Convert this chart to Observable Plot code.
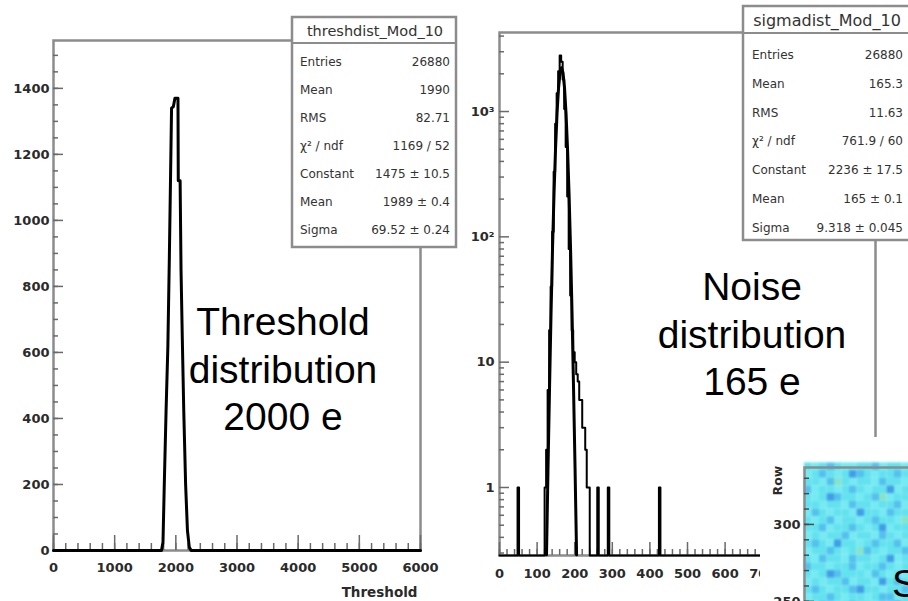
<!DOCTYPE html>
<html>
<head>
<meta charset="utf-8">
<script src="https://cdn.jsdelivr.net/npm/d3@7"></script>
<script src="https://cdn.jsdelivr.net/npm/@observablehq/plot@0.6"></script>
<style>
html,body{margin:0;padding:0;background:#fff;}
#stage{position:relative;width:908px;height:601px;overflow:hidden;background:#fff;}
#stage > svg{position:absolute;}
</style>
</head>
<body>
<div id="stage"></div>
<script>
// ---------------- data ----------------
// Threshold histogram outline (electrons, entries)
const thrX = [0, 1700, 1765, 1790, 1810, 1840, 1870, 1895, 1915, 1930, 1960, 1985, 2035, 2040, 2070, 2085, 2105, 2130, 2160, 2190, 2220, 2250, 6000];
const thrY = [0, 0, 0, 25, 190, 420, 620, 900, 1150, 1340, 1345, 1370, 1370, 1120, 1120, 850, 650, 420, 200, 60, 10, 0, 0];
const thrXMajor = [0, 1000, 2000, 3000, 4000, 5000, 6000];
const thrXLabels = ["0", "1000", "2000", "3000", "4000", "5000", "6000"];
const thrYMajor = [0, 200, 400, 600, 800, 1000, 1200, 1400];
const thrYLabels = ["0", "200", "400", "600", "800", "1000", "1200", "1400"];
const thrXTitle = "Threshold";

// Noise histogram: non-empty bins (bin start, width 4 e) and counts
const noiseBinStart = [48, 120, 124, 128, 132, 136, 140, 144, 148, 152, 156, 160, 164, 168, 172, 176, 180, 184, 188, 192, 196, 200, 204, 208, 212, 216, 220, 224, 228, 232, 236, 260, 288, 424];
const noiseBinCount = [1, 1, 2, 6, 18, 40, 110, 330, 800, 1400, 2100, 2800, 2500, 1800, 1050, 520, 210, 80, 34, 18, 12, 10, 8, 7, 5, 5, 3, 3, 2, 1, 1, 1, 1, 1];
// Gaussian fit curve
const fitX = [125, 129, 133, 137, 141, 145, 149, 153, 157, 161, 165, 169, 173, 177, 181, 185, 189, 193, 197, 201, 205];
const fitY = [0.29, 1.4, 6, 24, 80, 220, 500, 960, 1540, 2030, 2236, 2030, 1540, 960, 500, 220, 80, 24, 6, 1.4, 0.29];
const noiseXMajor = [0, 100, 200, 300, 400, 500, 600, 700, 800, 900, 1000];
const noiseXLabels = ["0", "100", "200", "300", "400", "500", "600", "700", "800", "900", "1000"];
const noiseYMajor = [1, 10, 100, 1000];
const noiseYLabels = ["1", "10", "10²", "10³"];

// Stats boxes
const statLabels = ["Entries", "Mean", "RMS", "χ² / ndf", "Constant", "Mean", "Sigma"];
const thrStatTitle = "threshdist_Mod_10";
const thrStatValues = ["26880", "1990", "82.71", "1169 / 52", "1475 ± 10.5", "1989 ± 0.4", "69.52 ± 0.24"];
const noiseStatTitle = "sigmadist_Mod_10";
const noiseStatValues = ["26880", "165.3", "11.63", "761.9 / 60", "2236 ± 17.5", "165 ± 0.1", "9.318 ± 0.045"];

// Annotations
const thrNote = ["Threshold", "distribution", "2000 e"];
const noiseNote = ["Noise", "distribution", "165 e"];
const mapNote = "S";

// Hit-map inset (rows, level per column cell; top row first)
const heatTopRow = 335;
const heatRows = [
  "010201100210010",
  "102010320100201",
  "001240100120010",
  "210010201003102",
  "010320010241001",
  "001001200100210",
  "120100130012001",
  "010210010200140",
  "002100201031002",
  "101002100120100",
  "020130010200210",
  "100201042010021",
  "012001200103100",
  "200100210020102",
  "010320001201010",
  "101002100130201",
  "020100230010020",
  "100201001022100",
  "012010200100301",
  "201002013020010",
  "010200100201002"
];
const heatYMajor = [250, 300];
const heatYLabels = ["250", "300"];
const heatYTitle = "Row";
const heatPalette = ["#62e2ee", "#74eaf3", "#52c1ee", "#3f9ee8", "#86e3c9"];

// ---------------- helpers ----------------
const stage = document.getElementById("stage");
function place(svg, left, top) {
  svg.style.left = left + "px";
  svg.style.top = top + "px";
  stage.appendChild(svg);
}
const frameColor = "#8c8c8c";
const tickColor = "#6a6a6a";
const labelColor = "#2a2a2a";
const plotStyle = {background: "transparent", fontFamily: "DejaVu Sans", fontSize: "13px", fontWeight: "bold", color: labelColor, overflow: "visible"};
const fmt = (vals, labs) => d => labs[vals.indexOf(d)];

// ---------------- threshold panel ----------------
const thrData = thrX.map((x, i) => ({x, y: thrY[i]}));
const thrPlot = Plot.plot({
  width: 460, height: 601,
  marginLeft: 53, marginRight: 40, marginTop: 40, marginBottom: 51,
  style: plotStyle,
  x: {domain: [0, 6000]},
  y: {domain: [0, 1545]},
  marks: [
    Plot.frame({stroke: frameColor, strokeWidth: 2.5}),
    Plot.axisX({ticks: d3.range(0, 6001, 200), tickSize: -7, tickFormat: () => "", stroke: tickColor, strokeWidth: 1.5, label: null}),
    Plot.axisX({ticks: thrXMajor, tickSize: -15, tickFormat: () => "", stroke: tickColor, strokeWidth: 1.5, label: null}),
    Plot.axisX({ticks: thrXMajor, tickSize: 0, tickPadding: 12, tickFormat: fmt(thrXMajor, thrXLabels), fill: labelColor, fontSize: 13, fontWeight: "bold", label: null}),
    Plot.axisY({ticks: d3.range(0, 1545, 50), tickSize: -5, tickFormat: () => "", stroke: tickColor, strokeWidth: 1.5, label: null}),
    Plot.axisY({ticks: thrYMajor, tickSize: -10, tickFormat: () => "", stroke: tickColor, strokeWidth: 1.5, label: null}),
    Plot.axisY({ticks: thrYMajor, tickSize: 0, tickPadding: 4, tickFormat: fmt(thrYMajor, thrYLabels), fill: labelColor, fontSize: 13, fontWeight: "bold", label: null}),
    Plot.text([thrXTitle], {text: d => d, frameAnchor: "bottom-right", dx: -3, dy: 42, textAnchor: "end", lineAnchor: "middle", fontSize: 13.5, fontWeight: "bold", fill: labelColor}),
    Plot.line(thrData, {x: "x", y: "y", stroke: "black", strokeWidth: 3, strokeLinejoin: "round"})
  ]
});
place(thrPlot, 0, 0);

// ---------------- noise panel ----------------
const yMin = 0.2866, yMax = 4272;
const binMap = new Map(noiseBinStart.map((s, i) => [s, noiseBinCount[i]]));
const noiseHist = [];
for (let s = 0; s < 1000; s += 4) noiseHist.push({x: s, y: binMap.get(s) || 0});
noiseHist.push({x: 1000, y: 0});
const fitData = fitX.map((x, i) => ({x, y: fitY[i]}));
const logMinor = [0.3, 0.4, 0.5, 0.6, 0.7, 0.8, 0.9]
  .concat(...[1, 10, 100].map(d => [2, 3, 4, 5, 6, 7, 8, 9].map(k => k * d)), [2000, 3000, 4000]);

const noisePlot = Plot.plot({
  width: 448, height: 601,
  marginLeft: 39, marginRight: 33, marginTop: 32, marginBottom: 46,
  style: plotStyle,
  x: {domain: [0, 1000]},
  y: {type: "log", domain: [yMin, yMax]},
  marks: [
    Plot.frame({stroke: frameColor, strokeWidth: 2.5}),
    Plot.axisX({ticks: d3.range(0, 1001, 20), tickSize: -6, tickFormat: () => "", stroke: tickColor, strokeWidth: 1.5, label: null}),
    Plot.axisX({ticks: noiseXMajor, tickSize: -13, tickFormat: () => "", stroke: tickColor, strokeWidth: 1.5, label: null}),
    Plot.axisX({ticks: noiseXMajor, tickSize: 0, tickPadding: 13, tickFormat: fmt(noiseXMajor, noiseXLabels), fill: labelColor, fontSize: 13, fontWeight: "bold", label: null}),
    Plot.axisY({ticks: logMinor, tickSize: -5, tickFormat: () => "", stroke: tickColor, strokeWidth: 1.5, label: null}),
    Plot.axisY({ticks: noiseYMajor, tickSize: -10, tickFormat: () => "", stroke: tickColor, strokeWidth: 1.5, label: null}),
    Plot.axisY({ticks: noiseYMajor, tickSize: 0, tickPadding: 5, tickFormat: fmt(noiseYMajor, noiseYLabels), fill: labelColor, fontSize: 13, fontWeight: "bold", label: null}),
    Plot.line(fitData, {x: "x", y: "y", stroke: "black", strokeWidth: 3, strokeLinejoin: "round"}),
    Plot.line(noiseHist, {x: "x", y: d => Math.max(d.y, yMin), curve: "step-after", stroke: "black", strokeWidth: 2})
  ]
});
place(noisePlot, 460, 0);

// ---------------- hit-map inset ----------------
const heatCells = heatRows.flatMap((s, r) => Array.from(s).map((c, col) => ({col, row: heatTopRow - 5 * r, level: +c})));
const heatPlot = Plot.plot({
  width: 160, height: 190,
  marginLeft: 44, marginRight: 3.5, marginTop: 30, marginBottom: 0,
  style: {background: "white", fontFamily: "DejaVu Sans", fontSize: "13px", fontWeight: "bold", color: labelColor},
  x: {domain: [0, 15], axis: null},
  y: {domain: [233, 337]},
  color: {type: "ordinal", domain: [0, 1, 2, 3, 4], range: heatPalette},
  marks: [
    Plot.rect(heatCells, {x1: "col", x2: d => d.col + 1, y1: "row", y2: d => d.row + 5, fill: "level"}),
    Plot.frame({stroke: frameColor, strokeWidth: 2.5}),
    Plot.axisY({ticks: d3.range(240, 340, 10), tickSize: -5, tickFormat: () => "", stroke: "#4a4a4a", strokeWidth: 1.5, label: null}),
    Plot.axisY({ticks: heatYMajor, tickSize: -10, tickFormat: () => "", stroke: "#4a4a4a", strokeWidth: 1.5, label: null}),
    Plot.axisY({ticks: heatYMajor, tickSize: 0, tickPadding: 4, tickFormat: fmt(heatYMajor, heatYLabels), fill: labelColor, fontSize: 13, fontWeight: "bold", label: null}),
    Plot.text([heatYTitle], {text: d => d, frameAnchor: "top-left", dx: -31, dy: 28, rotate: -90, fontSize: 12.5, fontWeight: "bold", fill: labelColor})
  ]
});
place(heatPlot, 760, 437);
const heatRectsG = heatPlot.querySelector('g[aria-label="rect"]');
if (heatRectsG) heatRectsG.style.filter = "blur(0.8px)";

// ---------------- overlay: stats boxes and notes ----------------
const ov = d3.create("svg").attr("width", 908).attr("height", 601).attr("viewBox", "0 0 908 601").node();
const ovs = d3.select(ov);

function statBox(x, y, w, h, sepY, title, titleX, titleY, titleSize, labelX, valueX, rowY0, rowStep, values) {
  const g = ovs.append("g").attr("font-family", "DejaVu Sans").attr("fill", "#333");
  g.append("rect").attr("x", x).attr("y", y).attr("width", w).attr("height", h)
    .attr("fill", "white").attr("stroke", frameColor).attr("stroke-width", 2.5);
  g.append("line").attr("x1", x).attr("x2", x + w).attr("y1", sepY).attr("y2", sepY)
    .attr("stroke", frameColor).attr("stroke-width", 2);
  g.append("text").attr("x", titleX).attr("y", titleY).attr("dominant-baseline", "central")
    .attr("text-anchor", "middle").attr("font-size", titleSize).text(title);
  statLabels.forEach((lab, i) => {
    const yy = rowY0 + i * rowStep;
    g.append("text").attr("x", labelX).attr("y", yy).attr("dominant-baseline", "central")
      .attr("font-size", 12).text(lab);
    g.append("text").attr("x", valueX).attr("y", yy).attr("dominant-baseline", "central")
      .attr("text-anchor", "end").attr("font-size", 12).text(values[i]);
  });
}
statBox(292, 17, 164, 230, 43, thrStatTitle, 375, 31, 14.5, 300, 450, 62, 28, thrStatValues);
statBox(743, 6, 200, 234, 33, noiseStatTitle, 827, 20, 16, 752, 903, 55, 28.8, noiseStatValues);

function note(lines, cx, y0, step) {
  const g = ovs.append("g").attr("font-family", "Liberation Sans, Arial, Helvetica, sans-serif")
    .attr("font-size", 39).attr("fill", "black").attr("text-anchor", "middle");
  lines.forEach((t, i) => g.append("text").attr("x", cx).attr("y", y0 + i * step).text(t));
}
note(thrNote, 283, 335, 47.5);
note(noiseNote, 752, 300, 47.5);
ovs.append("text").attr("x", 892).attr("y", 597).attr("font-family", "Liberation Sans, Arial, sans-serif")
  .attr("font-size", 39).attr("fill", "black").text(mapNote);

place(ov, 0, 0);
</script>
</body>
</html>
